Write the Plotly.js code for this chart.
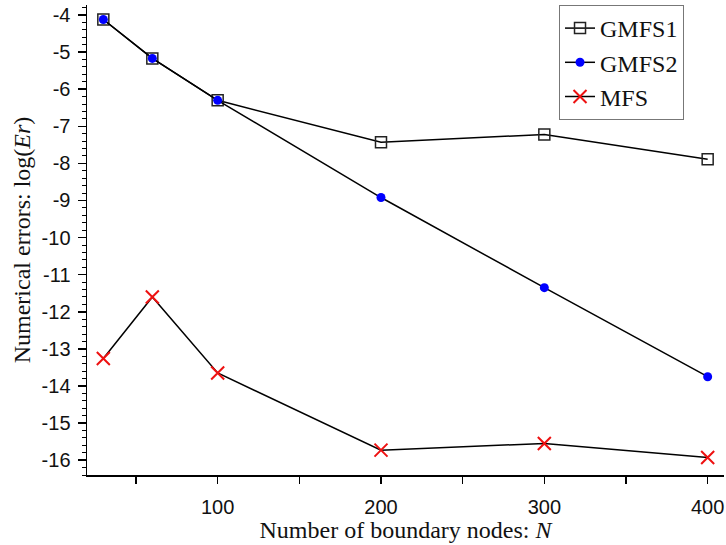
<!DOCTYPE html>
<html>
<head>
<meta charset="utf-8">
<script src="https://cdn.plot.ly/plotly-3.0.1.min.js"></script>
<style>html,body{margin:0;padding:0;background:#fff;}#chart{width:726px;height:545px;}</style>
</head>
<body>
<div id="chart"></div>
<script>
const nodes = [30, 60, 100, 200, 300, 400];
const gmfs1 = [-4.12, -5.17, -6.3, -7.43, -7.22, -7.89];
const gmfs2 = [-4.12, -5.17, -6.3, -8.92, -11.35, -13.75];
const mfs = [-13.26, -11.6, -13.65, -15.73, -15.55, -15.93];
const xTicks = [100, 200, 300, 400];
const yTicks = [-4, -5, -6, -7, -8, -9, -10, -11, -12, -13, -14, -15, -16];

const traces = [
  {x: nodes, y: gmfs1, name: 'GMFS1', mode: 'lines+markers', type: 'scatter',
   line: {color: '#000', width: 1.5},
   marker: {symbol: 'square-open', size: 11, color: '#222', line: {width: 1.5, color: '#222'}}},
  {x: nodes, y: gmfs2, name: 'GMFS2', mode: 'lines+markers', type: 'scatter',
   line: {color: '#000', width: 1.5},
   marker: {symbol: 'circle', size: 9, color: '#0000ff'}},
  {x: nodes, y: mfs, name: 'MFS', mode: 'lines+markers', type: 'scatter',
   line: {color: '#000', width: 1.5},
   marker: {symbol: 'x-thin-open', size: 13, color: '#ee1111', line: {width: 2, color: '#ee1111'}}}
];

const layout = {
  width: 726, height: 545,
  margin: {l: 87, r: 2, t: 5, b: 70},
  paper_bgcolor: '#fff', plot_bgcolor: '#fff',
  showlegend: true,
  legend: {x: 0.741, y: 1, xanchor: 'left', yanchor: 'top',
    bordercolor: '#777', borderwidth: 1, bgcolor: '#fff',
    font: {family: 'Liberation Serif', size: 24, color: '#111'},
    tracegroupgap: 0},
  xaxis: {range: [20, 410], tickvals: xTicks, ticktext: xTicks.map(String),
    showline: true, linecolor: '#000', linewidth: 1.5, mirror: false,
    ticks: 'outside', ticklen: 7, tickwidth: 1.5, tickcolor: '#000',
    ticklabelstandoff: 6,
    showgrid: false, zeroline: false,
    tickfont: {family: 'Liberation Sans', size: 20, color: '#111'},
    minor: {tickvals: [50, 150, 250, 350], ticks: 'outside', ticklen: 7, tickwidth: 1.5, tickcolor: '#000', showgrid: false},
    title: {text: 'Number of boundary nodes: <i>N</i>', standoff: 2,
      font: {family: 'Liberation Serif', size: 24, color: '#111'}}},
  yaxis: {range: [-16.4, -3.73], tickvals: yTicks, ticktext: yTicks.map(String),
    showline: true, linecolor: '#000', linewidth: 1.5, mirror: false,
    ticks: 'outside', ticklen: 8, tickwidth: 1.5, tickcolor: '#000',
    ticklabelstandoff: 3,
    showgrid: false, zeroline: false,
    tickfont: {family: 'Liberation Sans', size: 20, color: '#111'},
    minor: {dtick: 0.2, ticks: 'outside', ticklen: 4, tickwidth: 1, tickcolor: '#000', showgrid: false},
    title: {text: 'Numerical errors: log(<i>Er</i>)', standoff: 4,
      font: {family: 'Liberation Serif', size: 24, color: '#111'}}}
};

Plotly.newPlot('chart', traces, layout, {displayModeBar: false, staticPlot: true});
</script>
</body>
</html>
